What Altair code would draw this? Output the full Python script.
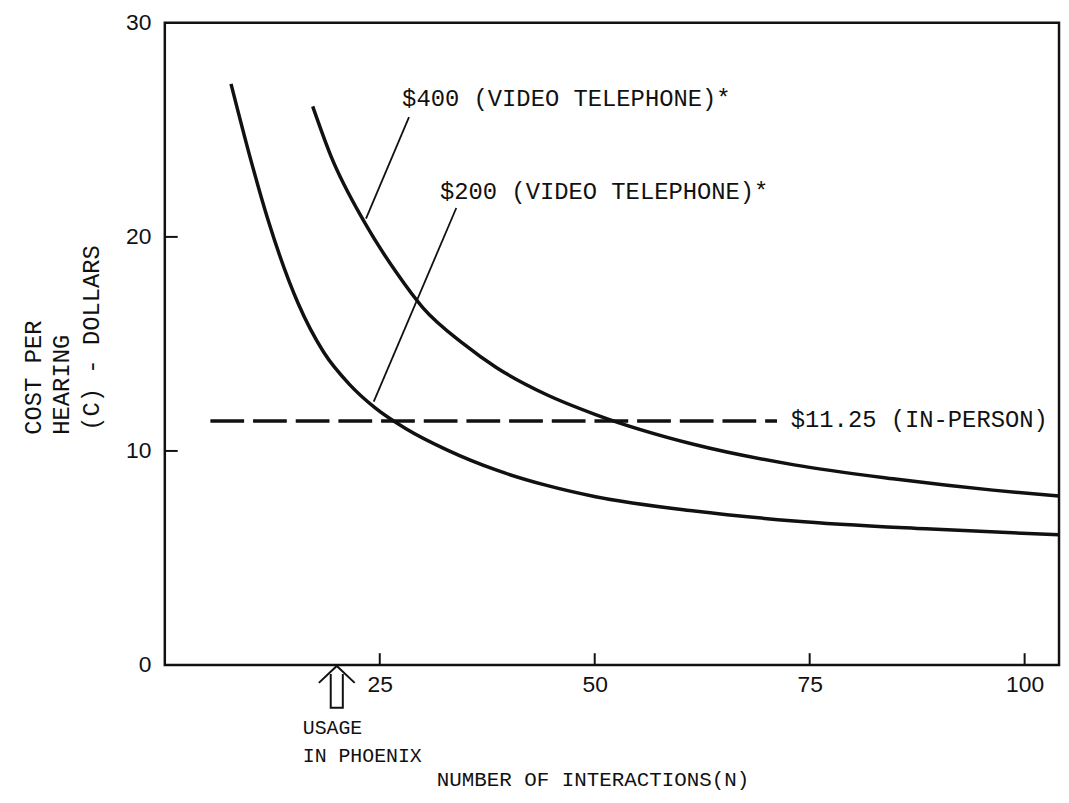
import altair as alt
import pandas as pd

# ---- data ----
N200 = [7.7, 10.0, 12.0, 15.5, 18.5, 21.5, 24.5, 28.0, 32.8, 38.6, 44.3, 50.1, 61.6, 73.2, 88.5, 104.0]
C200 = [27.15, 23.6, 20.8, 16.9, 14.6, 13.1, 12.0, 11.05, 10.05, 9.1, 8.4, 7.86, 7.19, 6.73, 6.36, 6.08]
N400 = [17.2, 19.3, 23.2, 27.0, 30.0, 34.75, 38.55, 44.3, 50.1, 61.6, 73.2, 84.7, 96.3, 104.0]
C400 = [26.1, 23.8, 20.7, 18.3, 16.7, 15.0, 13.9, 12.65, 11.7, 10.3, 9.35, 8.7, 8.17, 7.89]
IN_PERSON_N = [5.3, 71.2]
IN_PERSON_C = [11.4, 11.4]
X_TICKS = [25, 50, 75, 100]
Y_LABELS = [0, 10, 20, 30]
Y_TICKS = [10, 20]
PHOENIX_N = [20]

LABEL_TEXT = ["$400 (VIDEO TELEPHONE)*", "$200 (VIDEO TELEPHONE)*", "$11.25 (IN-PERSON)"]
LABEL_N = [27.6, 32.0, 72.8]
LABEL_C = [26.45, 22.1, 11.46]

LEADER_N = [23.4, 24.3]
LEADER_C = [20.85, 12.3]
LEADER_N2 = [28.4, 33.9]
LEADER_C2 = [25.6, 21.35]

INK = "#111111"
MONO = "Liberation Mono"

xs = alt.Scale(domain=[0, 104], nice=False, zero=False)
ys = alt.Scale(domain=[0, 30], nice=False, zero=False)
xaxis = alt.Axis(values=X_TICKS, ticks=False, domain=False, grid=False, title=None,
                 labelFont="Liberation Sans", labelFontSize=23, labelColor=INK,
                 labelPadding=9, labelFlush=False, labelOverlap=False)
yaxis = alt.Axis(values=Y_LABELS, ticks=False, domain=False, grid=False, title=None,
                 labelFont="Liberation Sans", labelFontSize=23, labelColor=INK,
                 labelPadding=14, labelFlush=False, labelOverlap=False)

X = lambda f="N": alt.X(f"{f}:Q", scale=xs, axis=xaxis)
Y = lambda f="C": alt.Y(f"{f}:Q", scale=ys, axis=yaxis)

curves = pd.concat([
    pd.DataFrame({"N": N200, "C": C200, "s": "200"}),
    pd.DataFrame({"N": N400, "C": C400, "s": "400"}),
])
curve_layer = alt.Chart(curves).mark_line(
    color=INK, strokeWidth=3.5, interpolate="monotone"
).encode(x=X(), y=Y(), detail="s:N")

dash_layer = alt.Chart(pd.DataFrame({"N": IN_PERSON_N, "C": IN_PERSON_C})).mark_line(
    color=INK, strokeWidth=3.5, strokeDash=[34, 9]
).encode(x=X(), y=Y())

leaders = pd.DataFrame({"N": LEADER_N, "C": LEADER_C, "N2": LEADER_N2, "C2": LEADER_C2})
leader_layer = alt.Chart(leaders).mark_rule(color=INK, strokeWidth=1.8).encode(
    x=X(), y=Y(), x2="N2:Q", y2="C2:Q")

xt = pd.DataFrame({"N": X_TICKS, "C": [0] * len(X_TICKS), "C2": [0.55] * len(X_TICKS)})
xtick_layer = alt.Chart(xt).mark_rule(color=INK, strokeWidth=2).encode(x=X(), y=Y(), y2="C2:Q")
yt = pd.DataFrame({"C": Y_TICKS, "N": [0] * len(Y_TICKS), "N2": [1.5] * len(Y_TICKS)})
ytick_layer = alt.Chart(yt).mark_rule(color=INK, strokeWidth=2).encode(x=X(), x2="N2:Q", y=Y())

labels = pd.DataFrame({"N": LABEL_N, "C": LABEL_C, "t": LABEL_TEXT})
label_layer = alt.Chart(labels).mark_text(
    font=MONO, fontSize=24, color=INK, align="left", baseline="middle"
).encode(x=X(), y=Y(), text="t:N")

# outlined "usage" arrow under the axis at N = 20
arrow_path = "M -0.86 -0.19 L 0 -1 L 0.86 -0.19 M -0.29 -0.62 L -0.29 1 L 0.29 1 L 0.29 -0.62"
arrow_layer = alt.Chart(pd.DataFrame({"N": PHOENIX_N})).mark_point(
    shape=arrow_path, size=1764, filled=False, stroke=INK, strokeWidth=2, opacity=1
).encode(x=X(), y=alt.value(669))

def free_text(txt, x, y, size, align="left", angle=0):
    kw = dict(font=MONO, fontSize=size, color=INK, align=align, text=txt)
    if angle:
        kw.update(angle=angle, baseline="middle")
    else:
        kw.update(baseline="alphabetic")
    return alt.Chart(pd.DataFrame({"a": [0]})).mark_text(**kw).encode(
        x=alt.value(x), y=alt.value(y))

texts = [
    free_text("USAGE", 139, 717, 20),
    free_text("IN PHOENIX", 139, 745, 20),
    free_text("NUMBER OF INTERACTIONS(N)", 274, 769, 21),
    free_text("COST PER", -132, 415, 24, angle=270),
    free_text("HEARING", -104, 415, 24, angle=270),
    free_text("(C) - DOLLARS", -73, 411, 24, angle=270),
]

chart = alt.layer(
    curve_layer, dash_layer, leader_layer, xtick_layer, ytick_layer,
    label_layer, arrow_layer, *texts
).properties(
    width=901, height=647,
    padding={"left": 158, "top": 12, "right": 2, "bottom": 125},
    autosize=alt.AutoSizeParams(type="none"),
    background="white",
).configure_view(stroke=INK, strokeWidth=2.5)

chart.save("out.html", embed_options={"renderer": "svg", "actions": False})
